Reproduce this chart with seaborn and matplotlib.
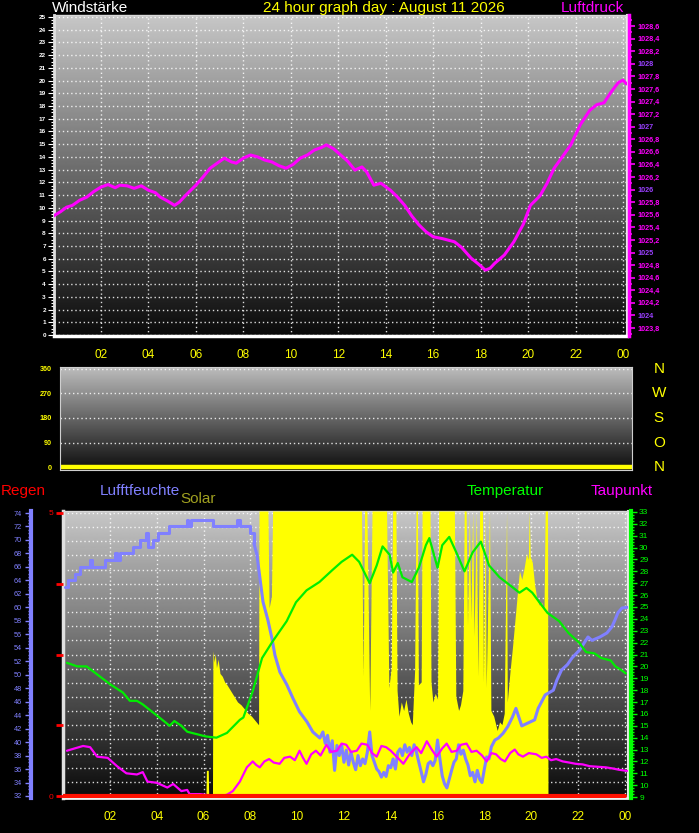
import numpy as np
import seaborn as sns
import matplotlib.pyplot as plt
import matplotlib.ticker as mtick
import matplotlib.transforms as mtrans

W, H = 699, 833

# ---------------- data ----------------
hour_ticks = [2, 4, 6, 8, 10, 12, 14, 16, 18, 20, 22, 24]
hour_labels = ["02", "04", "06", "08", "10", "12", "14", "16", "18", "20", "22", "00"]

# top panel: air pressure (hPa)
press_hours = [0.0, 0.3, 0.55, 0.8, 1.1, 1.4, 1.7, 2.0, 2.3, 2.6, 2.8, 3.1, 3.4, 3.7,
               4.0, 4.3, 4.5, 4.8, 5.1, 5.3, 5.6, 6.0, 6.3, 6.6, 6.9, 7.2, 7.5, 7.7,
               8.0, 8.3, 8.6, 8.9, 9.2, 9.5, 9.8, 10.1, 10.4, 10.7, 11.0, 11.3, 11.5,
               11.8, 12.1, 12.4, 12.7, 13.0, 13.2, 13.5, 13.8, 14.2, 14.5, 14.8, 15.1,
               15.4, 15.7, 16.0, 16.4, 16.9, 17.2, 17.6, 17.9, 18.2, 18.4, 18.6, 19.0,
               19.4, 19.8, 20.1, 20.5, 20.8, 21.1, 21.5, 21.8, 22.2, 22.6, 22.9, 23.2,
               23.5, 23.8, 24.0, 24.15]
press_hpa = [1025.58, 1025.65, 1025.72, 1025.75, 1025.83, 1025.88, 1025.97, 1026.04,
             1026.08, 1026.03, 1026.07, 1026.06, 1026.02, 1026.06, 1025.99, 1025.95,
             1025.88, 1025.82, 1025.75, 1025.80, 1025.92, 1026.07, 1026.20, 1026.34,
             1026.42, 1026.50, 1026.44, 1026.42, 1026.50, 1026.55, 1026.52, 1026.47,
             1026.44, 1026.38, 1026.34, 1026.40, 1026.50, 1026.55, 1026.63, 1026.67,
             1026.71, 1026.65, 1026.55, 1026.45, 1026.31, 1026.36, 1026.28, 1026.07,
             1026.10, 1025.99, 1025.88, 1025.75, 1025.58, 1025.44, 1025.33, 1025.25,
             1025.22, 1025.17, 1025.08, 1024.91, 1024.82, 1024.72, 1024.75, 1024.83,
             1024.96, 1025.17, 1025.45, 1025.75, 1025.90, 1026.10, 1026.34, 1026.55,
             1026.71, 1027.03, 1027.26, 1027.35, 1027.38, 1027.55, 1027.70, 1027.74,
             1027.68]

# middle panel: wind direction (deg)
wind_dir_hours = [0, 24]
wind_dir_deg = [0, 0]
compass_labels = ["N", "W", "S", "O", "N"]
compass_deg = [360, 270, 180, 90, 0]

# bottom panel
rain_hours = [0, 24]
rain_mm = [0, 0]

hum_hours = [0.08, 0.2, 0.5, 0.72, 1.15, 1.22, 1.78, 2.22, 2.3, 2.42, 3.0, 3.28, 3.55,
             3.62, 3.85, 4.05, 4.52, 5.28, 5.35, 5.45, 6.4, 7.43, 7.57, 8.0, 8.15, 8.28,
             8.41, 8.54, 8.75, 8.92, 9.05, 9.26, 9.56, 9.82, 10.1, 10.42, 10.67, 10.97,
             11.1, 11.2, 11.3, 11.4, 11.5, 11.6, 11.7, 11.8, 11.9, 12.0, 12.1, 12.2, 12.3,
             12.4, 12.5, 12.6, 12.7, 12.8, 12.9, 13.0, 13.1, 13.2, 13.3, 13.4, 13.5, 13.6,
             13.7, 13.8, 13.9, 14.0, 14.1, 14.2, 14.3, 14.4, 14.5, 14.6, 14.7, 14.8, 14.9,
             15.0, 15.1, 15.2, 15.3, 15.4, 15.5, 15.6, 15.7, 15.8, 15.9, 16.0, 16.1, 16.2,
             16.3, 16.4, 16.5, 16.6, 16.7, 16.8, 16.9, 17.0, 17.1, 17.2, 17.3, 17.4, 17.5,
             17.6, 17.7, 17.8, 17.9, 18.0, 18.1, 18.2, 18.3, 18.45, 18.6, 18.8, 19.0, 19.2,
             19.35, 19.6, 20.15, 20.3, 20.6, 20.95, 21.1, 21.3, 21.55, 21.75, 22.08, 22.3,
             22.43, 22.6, 22.94, 23.24, 23.45, 23.58, 23.71, 23.88, 24.1]
hum_pct = [63, 64, 65, 66, 67, 66, 67, 68, 67, 68, 69, 70, 71, 69, 70, 71, 72, 73, 72,
           73, 72, 73, 72, 71, 69.5, 67.8, 64.3, 60.8, 58.1, 55.4, 52.9, 50.4, 48.5, 46.5,
           44.5, 43.0, 41.5, 40.6, 41.5, 39.8, 41.0, 38.5, 40.2, 35.8, 39.5, 38.0, 39.6,
           37.0, 38.8, 36.6, 38.5, 37.0, 35.9, 38.0, 36.5, 37.5, 36.8, 38.5, 41.5, 38.0,
           37.0, 36.0, 35.6, 34.8, 35.5, 34.9, 36.5, 36.2, 37.5, 36.0, 38.5, 39.0, 38.0,
           39.6, 38.5, 39.2, 38.0, 39.6, 38.5, 37.0, 35.6, 34.1, 35.2, 36.8, 37.1, 36.5,
           37.3, 40.3, 37.5, 35.0, 33.8, 33.2, 34.5, 35.8, 37.0, 37.5, 39.6, 38.2, 38.8,
           37.5, 36.6, 35.0, 35.5, 34.1, 35.8, 34.5, 34.0, 36.0, 37.8, 37.5, 39.3, 40.3,
           40.6, 41.3, 42.3, 43.7, 45.0, 42.4, 43.3, 45.0, 47.0, 47.7, 49.2, 50.7, 51.5,
           52.5, 53.7, 54.9, 55.6, 55.1, 55.6, 56.2, 57.1, 58.1, 59.2, 59.9, 60.0]
hum_step_until = 8.0   # night readings move in whole-percent steps

temp_hours = [0.16, 0.6, 1.0, 1.6, 2.0, 2.55, 2.85, 3.15, 3.4, 3.85, 4.3, 4.55, 4.75,
              5.05, 5.3, 5.7, 6.1, 6.55, 7.0, 7.25, 7.55, 7.7, 8.1, 8.5, 8.95, 9.55,
              9.95, 10.4, 10.95, 11.5, 11.9, 12.35, 12.65, 13.1, 13.4, 13.65, 13.95,
              14.1, 14.3, 14.5, 14.9, 15.2, 15.5, 15.65, 16.0, 16.2, 16.5, 16.8, 17.15,
              17.5, 17.85, 18.2, 18.65, 19.05, 19.5, 19.8, 20.05, 20.35, 20.7, 21.2,
              21.6, 22.05, 22.35, 22.7, 23.0, 23.4, 23.6, 23.85, 24.05]
temp_c = [20.3, 20.0, 20.0, 19.1, 18.5, 17.8, 17.1, 17.1, 16.8, 16.1, 15.4, 15.0, 15.4,
          15.0, 14.5, 14.3, 14.1, 14.0, 14.4, 14.9, 15.5, 15.7, 17.9, 20.7, 22.1, 23.8,
          25.4, 26.4, 27.1, 28.1, 28.8, 29.4, 28.8, 27.0, 28.5, 30.1, 29.4, 27.9, 28.7,
          27.5, 27.1, 28.3, 30.2, 30.8, 28.3, 30.2, 30.9, 29.6, 28.0, 29.6, 30.5, 28.5,
          27.5, 26.9, 26.2, 26.6, 26.2, 25.4, 24.5, 23.8, 22.8, 22.0, 21.2, 21.1, 20.7,
          20.5, 20.0, 19.7, 19.4]

dew_hours = [0.16, 0.5, 0.85, 1.15, 1.45, 1.9, 2.3, 2.7, 3.15, 3.4, 3.6, 4.0, 4.45, 4.7,
             5.05, 5.3, 5.4, 5.85, 6.4, 6.55, 7.0, 7.25, 7.55, 7.85, 8.1, 8.25, 8.4, 8.6,
             8.8, 9.0, 9.25, 9.45, 9.7, 9.9, 10.1, 10.25, 10.4, 10.6, 10.8, 11.0, 11.25,
             11.45, 11.7, 11.9, 12.1, 12.3, 12.55, 12.75, 13.0, 13.2, 13.4, 13.6, 13.8,
             14.0, 14.25, 14.54, 14.8, 15.1, 15.3, 15.54, 15.75, 15.96, 16.2, 16.39, 16.6,
             16.82, 17.0, 17.24, 17.45, 17.67, 17.9, 18.1, 18.3, 18.5, 18.7, 18.88, 19.1,
             19.3, 19.45, 19.65, 19.9, 20.22, 20.45, 20.65, 20.85, 21.07, 21.35, 21.64,
             21.9, 22.2, 22.5, 22.85, 23.2, 23.5, 23.75, 24.1]
dew_c = [12.9, 13.1, 13.3, 13.2, 12.4, 12.3, 11.6, 11.0, 10.9, 11.1, 10.3, 10.2, 9.8, 10.1,
         9.5, 9.6, 9.25, 9.25, 9.1, 9.0, 9.2, 9.5, 10.3, 11.5, 12.0, 11.7, 11.5, 12.0, 12.2,
         11.9, 11.8, 12.3, 12.4, 12.1, 12.9, 12.3, 11.8, 12.6, 12.9, 12.5, 13.4, 12.8, 12.9,
         13.5, 13.4, 12.8, 12.9, 13.5, 13.4, 12.7, 12.4, 13.3, 13.2, 12.9, 12.4, 11.8, 12.6,
         13.2, 12.7, 13.7, 13.0, 12.4, 13.1, 13.5, 12.8, 12.9, 13.4, 13.5, 12.8, 12.9, 12.5,
         12.0, 12.7, 12.6, 12.2, 12.0, 12.7, 13.0, 12.6, 12.4, 12.7, 12.6, 12.3, 12.4, 12.1,
         12.2, 12.0, 11.9, 11.8, 11.75, 11.6, 11.55, 11.5, 11.4, 11.3, 11.2]

solar_hours = [0.0, 6.1, 6.12, 6.2, 6.22, 6.38, 6.4, 6.45, 6.5, 6.55, 6.62, 6.7, 6.8, 6.9,
               7.0, 7.15, 7.3, 7.45, 7.6, 7.75, 7.9, 8.05, 8.2, 8.35, 8.37, 8.75, 8.8, 8.9,
               8.95, 12.75, 12.82, 12.88, 12.98, 13.1, 13.2, 13.82, 13.92, 14.02, 14.08,
               14.22, 14.27, 14.35, 14.45, 14.55, 14.65, 14.75, 14.85, 14.92, 15.02, 15.08,
               15.14, 15.18, 15.3, 15.34, 15.68, 15.72, 15.8, 15.9, 16.0, 16.05, 16.72,
               16.78, 16.9, 16.98, 17.08, 17.14, 17.22, 17.28, 17.36, 17.42, 17.5, 17.56,
               17.66, 17.72, 17.8, 17.92, 17.96, 18.04, 18.08, 18.22, 18.28, 18.4, 18.55,
               18.65, 18.75, 18.85, 18.95, 18.98, 19.1, 19.2, 19.3, 19.4, 19.5, 19.6, 19.7,
               19.8, 19.88, 19.92, 19.96, 20.05, 20.15, 20.25, 20.35, 20.45, 20.55, 20.6,
               20.7, 20.72, 24.1]
solar_wm2 = [0, 0, 90, 90, 0, 0, 510, 470, 500, 450, 480, 430, 420, 400, 390, 370, 350,
             330, 320, 305, 290, 280, 265, 250, 1000, 1000, 660, 700, 1000, 1000, 420,
             1000, 1000, 300, 1000, 1000, 380, 450, 1000, 1000, 370, 280, 330, 300, 340,
             290, 260, 250, 440, 1000, 1000, 390, 400, 1000, 1000, 400, 330, 360, 340,
             1000, 1000, 350, 300, 320, 370, 1000, 1000, 600, 1000, 620, 1000, 560, 1000,
             420, 1000, 1000, 400, 1000, 380, 1000, 300, 280, 230, 260, 250, 290, 1000,
             330, 440, 520, 610, 700, 790, 760, 800, 850, 830, 1000, 840, 820, 740, 690,
             670, 680, 650, 1000, 1000, 0, 0]


def px_rect(x0, y0, x1, y1):
    return [x0 / W, 1 - y1 / H, (x1 - x0) / W, (y1 - y0) / H]


def gradient(ax, top, bottom):
    grad = np.linspace(top, bottom, 256).reshape(-1, 1)
    ax.imshow(grad, cmap="gray", vmin=0, vmax=1, aspect="auto", extent=[0, 1, 0, 1],
              transform=ax.transAxes, zorder=0, interpolation="bilinear")


def hour_axis(ax):
    ax.xaxis.set_major_locator(mtick.FixedLocator(hour_ticks))
    ax.xaxis.set_major_formatter(mtick.FixedFormatter(hour_labels))
    ax.xaxis.set_minor_locator(mtick.MultipleLocator(0.5))
    ax.tick_params(axis="x", which="both", direction="out", color="#9a9a9a",
                   length=3, width=1, pad=6, labelsize=8.5, labelcolor="#ffff00")


def twin(ax):
    t = ax.twinx()
    for s in t.spines.values():
        s.set_visible(False)
    return t


sns.set_style("dark", rc={"axes.facecolor": "black", "figure.facecolor": "black",
                          "axes.axisbelow": True})
plt.rcParams["font.family"] = ["Liberation Sans", "DejaVu Sans"]

fig = plt.figure(figsize=(W / 100, H / 100), dpi=100, facecolor="black")
dotted = (0, (1, 2))

# ---------------- top panel ----------------
ax_w = fig.add_axes(px_rect(53.5, 15, 627, 336))
gradient(ax_w, 0.78, 0.04)
ax_w.set_xlim(0, 24.17)
ax_w.set_ylim(-0.08, 25.16)
ax_w.yaxis.set_major_locator(mtick.MultipleLocator(1))
ax_w.yaxis.set_minor_locator(mtick.MultipleLocator(0.25))
hour_axis(ax_w)
ax_w.tick_params(axis="y", which="both", colors="white", labelsize=4.6, pad=1.5, width=0.8)
ax_w.tick_params(axis="y", which="major", length=4)
ax_w.tick_params(axis="y", which="minor", length=2)
plt.setp(ax_w.get_yticklabels(), fontweight="bold")
ax_w.grid(True, which="major", color="white", linestyle=dotted, linewidth=1, alpha=0.85)
for side, col, lw in [("left", "#e0e0e0", 2), ("bottom", "white", 2.5),
                      ("top", "#d8d8d8", 1), ("right", "#e8e8e8", 1.5)]:
    ax_w.spines[side].set_color(col)
    ax_w.spines[side].set_linewidth(lw)

ax_p = ax_w.twinx()
for s in ["left", "top", "bottom"]:
    ax_p.spines[s].set_visible(False)
ax_p.spines["right"].set_color("#ff00ff")
ax_p.spines["right"].set_linewidth(2.5)
ax_p.spines["right"].set_position(("axes", 1.004))
sns.lineplot(x=press_hours, y=press_hpa, ax=ax_p, color="#ff00ff", linewidth=2.2,
             estimator=None, legend=False)
ax_p.set_ylim(1023.673, 1028.775)
ax_p.yaxis.set_major_locator(mtick.MultipleLocator(0.2))
ax_p.yaxis.set_minor_locator(mtick.MultipleLocator(0.1))
ax_p.yaxis.set_major_formatter(mtick.FuncFormatter(
    lambda v, p: f"{v:.0f}" if abs(v - round(v)) < 0.01 else f"{v:.1f}".replace(".", ",")))
ax_p.tick_params(axis="y", which="both", colors="#ff00ff", width=1.2, labelsize=5.2, pad=2)
ax_p.tick_params(axis="y", which="major", length=4)
ax_p.tick_params(axis="y", which="minor", length=2.5)
plt.setp(ax_p.get_yticklabels(), fontweight="bold")

fig.text(52 / W, 1 - 8 / H, "Windstärke", color="white", fontsize=11, ha="left", va="center")
fig.text(384 / W, 1 - 8 / H, "24 hour graph day : August 11 2026", color="#ffff00",
         fontsize=11, ha="center", va="center")
fig.text(624 / W, 1 - 8 / H, "Luftdruck", color="#ff00ff", fontsize=11, ha="right", va="center")

# ---------------- middle panel ----------------
ax_d = fig.add_axes(px_rect(60, 367, 632, 470))
gradient(ax_d, 0.74, 0.05)
ax_d.set_xlim(0, 24)
ax_d.set_ylim(-11, 367.3)
ax_d.set_xticks([])
ax_d.yaxis.set_major_locator(mtick.MultipleLocator(90))
ax_d.yaxis.set_minor_locator(mtick.MultipleLocator(22.5))
ax_d.tick_params(axis="y", which="both", colors="#ffff00", width=1.5, labelsize=5.2, pad=2)
ax_d.tick_params(axis="y", which="major", length=4)
ax_d.tick_params(axis="y", which="minor", length=3)
plt.setp(ax_d.get_yticklabels(), fontweight="bold")
ax_d.grid(True, axis="y", which="major", color="white", linestyle=dotted, linewidth=1, alpha=0.85)
for s in ax_d.spines.values():
    s.set_color("#cfcfcf")
    s.set_linewidth(0.8)
sns.lineplot(x=wind_dir_hours, y=wind_dir_deg, ax=ax_d, color="#ffff00", linewidth=3.2,
             estimator=None, legend=False)
tr = mtrans.blended_transform_factory(ax_d.transAxes, ax_d.transData)
for lab, deg in zip(compass_labels, compass_deg):
    ax_d.text(1.047, deg, lab, transform=tr, color="#ffff00", fontsize=11,
              ha="center", va="center", clip_on=False)

# ---------------- bottom panel ----------------
ax_b = fig.add_axes(px_rect(63.2, 511, 628, 798))
gradient(ax_b, 0.78, 0.04)
ax_b.set_xlim(0, 24.14)
ax_b.set_ylim(-0.035, 5.035)
ax_b.yaxis.set_major_locator(mtick.MultipleLocator(0.25))
ax_b.tick_params(axis="y", length=0, labelleft=False, labelright=False)
hour_axis(ax_b)
ax_b.grid(True, which="major", color="white", linestyle=dotted, linewidth=1, alpha=0.85)
for side, col, lw in [("left", "#e0e0e0", 2.5), ("bottom", "#f0f0f0", 2),
                      ("top", "#d8d8d8", 1), ("right", "#e8e8e8", 1.5)]:
    ax_b.spines[side].set_color(col)
    ax_b.spines[side].set_linewidth(lw)

# solar (filled)
ax_s = twin(ax_b)
ax_s.fill_between(solar_hours, solar_wm2, color="#ffff00", linewidth=0)
ax_s.set_ylim(-7, 1000)
ax_s.set_yticks([])

# humidity, left ruler
ax_h = twin(ax_b)
ax_h.yaxis.tick_left()
ax_h.spines["left"].set_visible(True)
ax_h.spines["left"].set_position(("axes", -0.057))
ax_h.spines["left"].set_color("#8080ff")
ax_h.spines["left"].set_linewidth(3)
n_step = sum(h <= hum_step_until for h in hum_hours)
sns.lineplot(x=hum_hours[:n_step + 1], y=hum_pct[:n_step + 1], ax=ax_h, color="#8080ff",
             linewidth=2.2, drawstyle="steps-post", estimator=None, legend=False)
sns.lineplot(x=hum_hours[n_step:], y=hum_pct[n_step:], ax=ax_h, color="#8080ff",
             linewidth=2.2, estimator=None, legend=False)
ax_h.set_ylim(31.7, 74.3)
ax_h.yaxis.set_major_locator(mtick.MultipleLocator(2))
ax_h.yaxis.set_minor_locator(mtick.MultipleLocator(0.5))
ax_h.tick_params(axis="y", which="both", colors="#8080ff", width=1, labelsize=5.3, pad=2.5)
ax_h.tick_params(axis="y", which="major", length=4)
ax_h.tick_params(axis="y", which="minor", length=2.5)

# temperature and dew point, right ruler
ax_t = twin(ax_b)
ax_t.spines["right"].set_visible(True)
ax_t.spines["right"].set_position(("axes", 1.005))
ax_t.spines["right"].set_color("#00ff00")
ax_t.spines["right"].set_linewidth(3)
sns.lineplot(x=temp_hours, y=temp_c, ax=ax_t, color="#00ee00", linewidth=1.6,
             estimator=None, legend=False)
sns.lineplot(x=dew_hours, y=dew_c, ax=ax_t, color="#ff00ff", linewidth=1.6,
             estimator=None, legend=False)
ax_t.set_ylim(8.92, 33.08)
ax_t.yaxis.set_major_locator(mtick.MultipleLocator(1))
ax_t.yaxis.set_minor_locator(mtick.MultipleLocator(0.25))
ax_t.tick_params(axis="y", which="both", colors="#00ff00", width=1, labelsize=6, pad=2)
ax_t.tick_params(axis="y", which="major", length=4)
ax_t.tick_params(axis="y", which="minor", length=2.5)

# rain, drawn last so it stays on top
ax_r = twin(ax_b)
ax_r.yaxis.tick_left()
sns.lineplot(x=rain_hours, y=rain_mm, ax=ax_r, color="#ff1000", linewidth=3,
             estimator=None, legend=False)
ax_r.set_ylim(-0.035, 5.035)
ax_r.yaxis.set_major_locator(mtick.FixedLocator([0, 1.25, 2.5, 3.75, 5]))
ax_r.yaxis.set_major_formatter(mtick.FixedFormatter(["0", "", "", "", "5"]))
ax_r.tick_params(axis="y", colors="#ff0000", length=5, width=2, labelsize=6, pad=2)

for label, col, x, y in [("Regen", "#ff0000", 1, 491), ("Lufftfeuchte", "#8080ff", 100, 491),
                         ("Solar", "#a0a020", 180, 499), ("Temperatur", "#00ff00", 467, 491),
                         ("Taupunkt", "#ff00ff", 591, 491)]:
    fig.text(x / W, 1 - y / H, label, color=col, fontsize=11, ha="left", va="center")

fig.canvas.draw()
for lab in ax_p.get_yticklabels():
    if "," not in lab.get_text():
        lab.set_color("#9a40ff")

fig.savefig("out.png", dpi=100, facecolor="black")
